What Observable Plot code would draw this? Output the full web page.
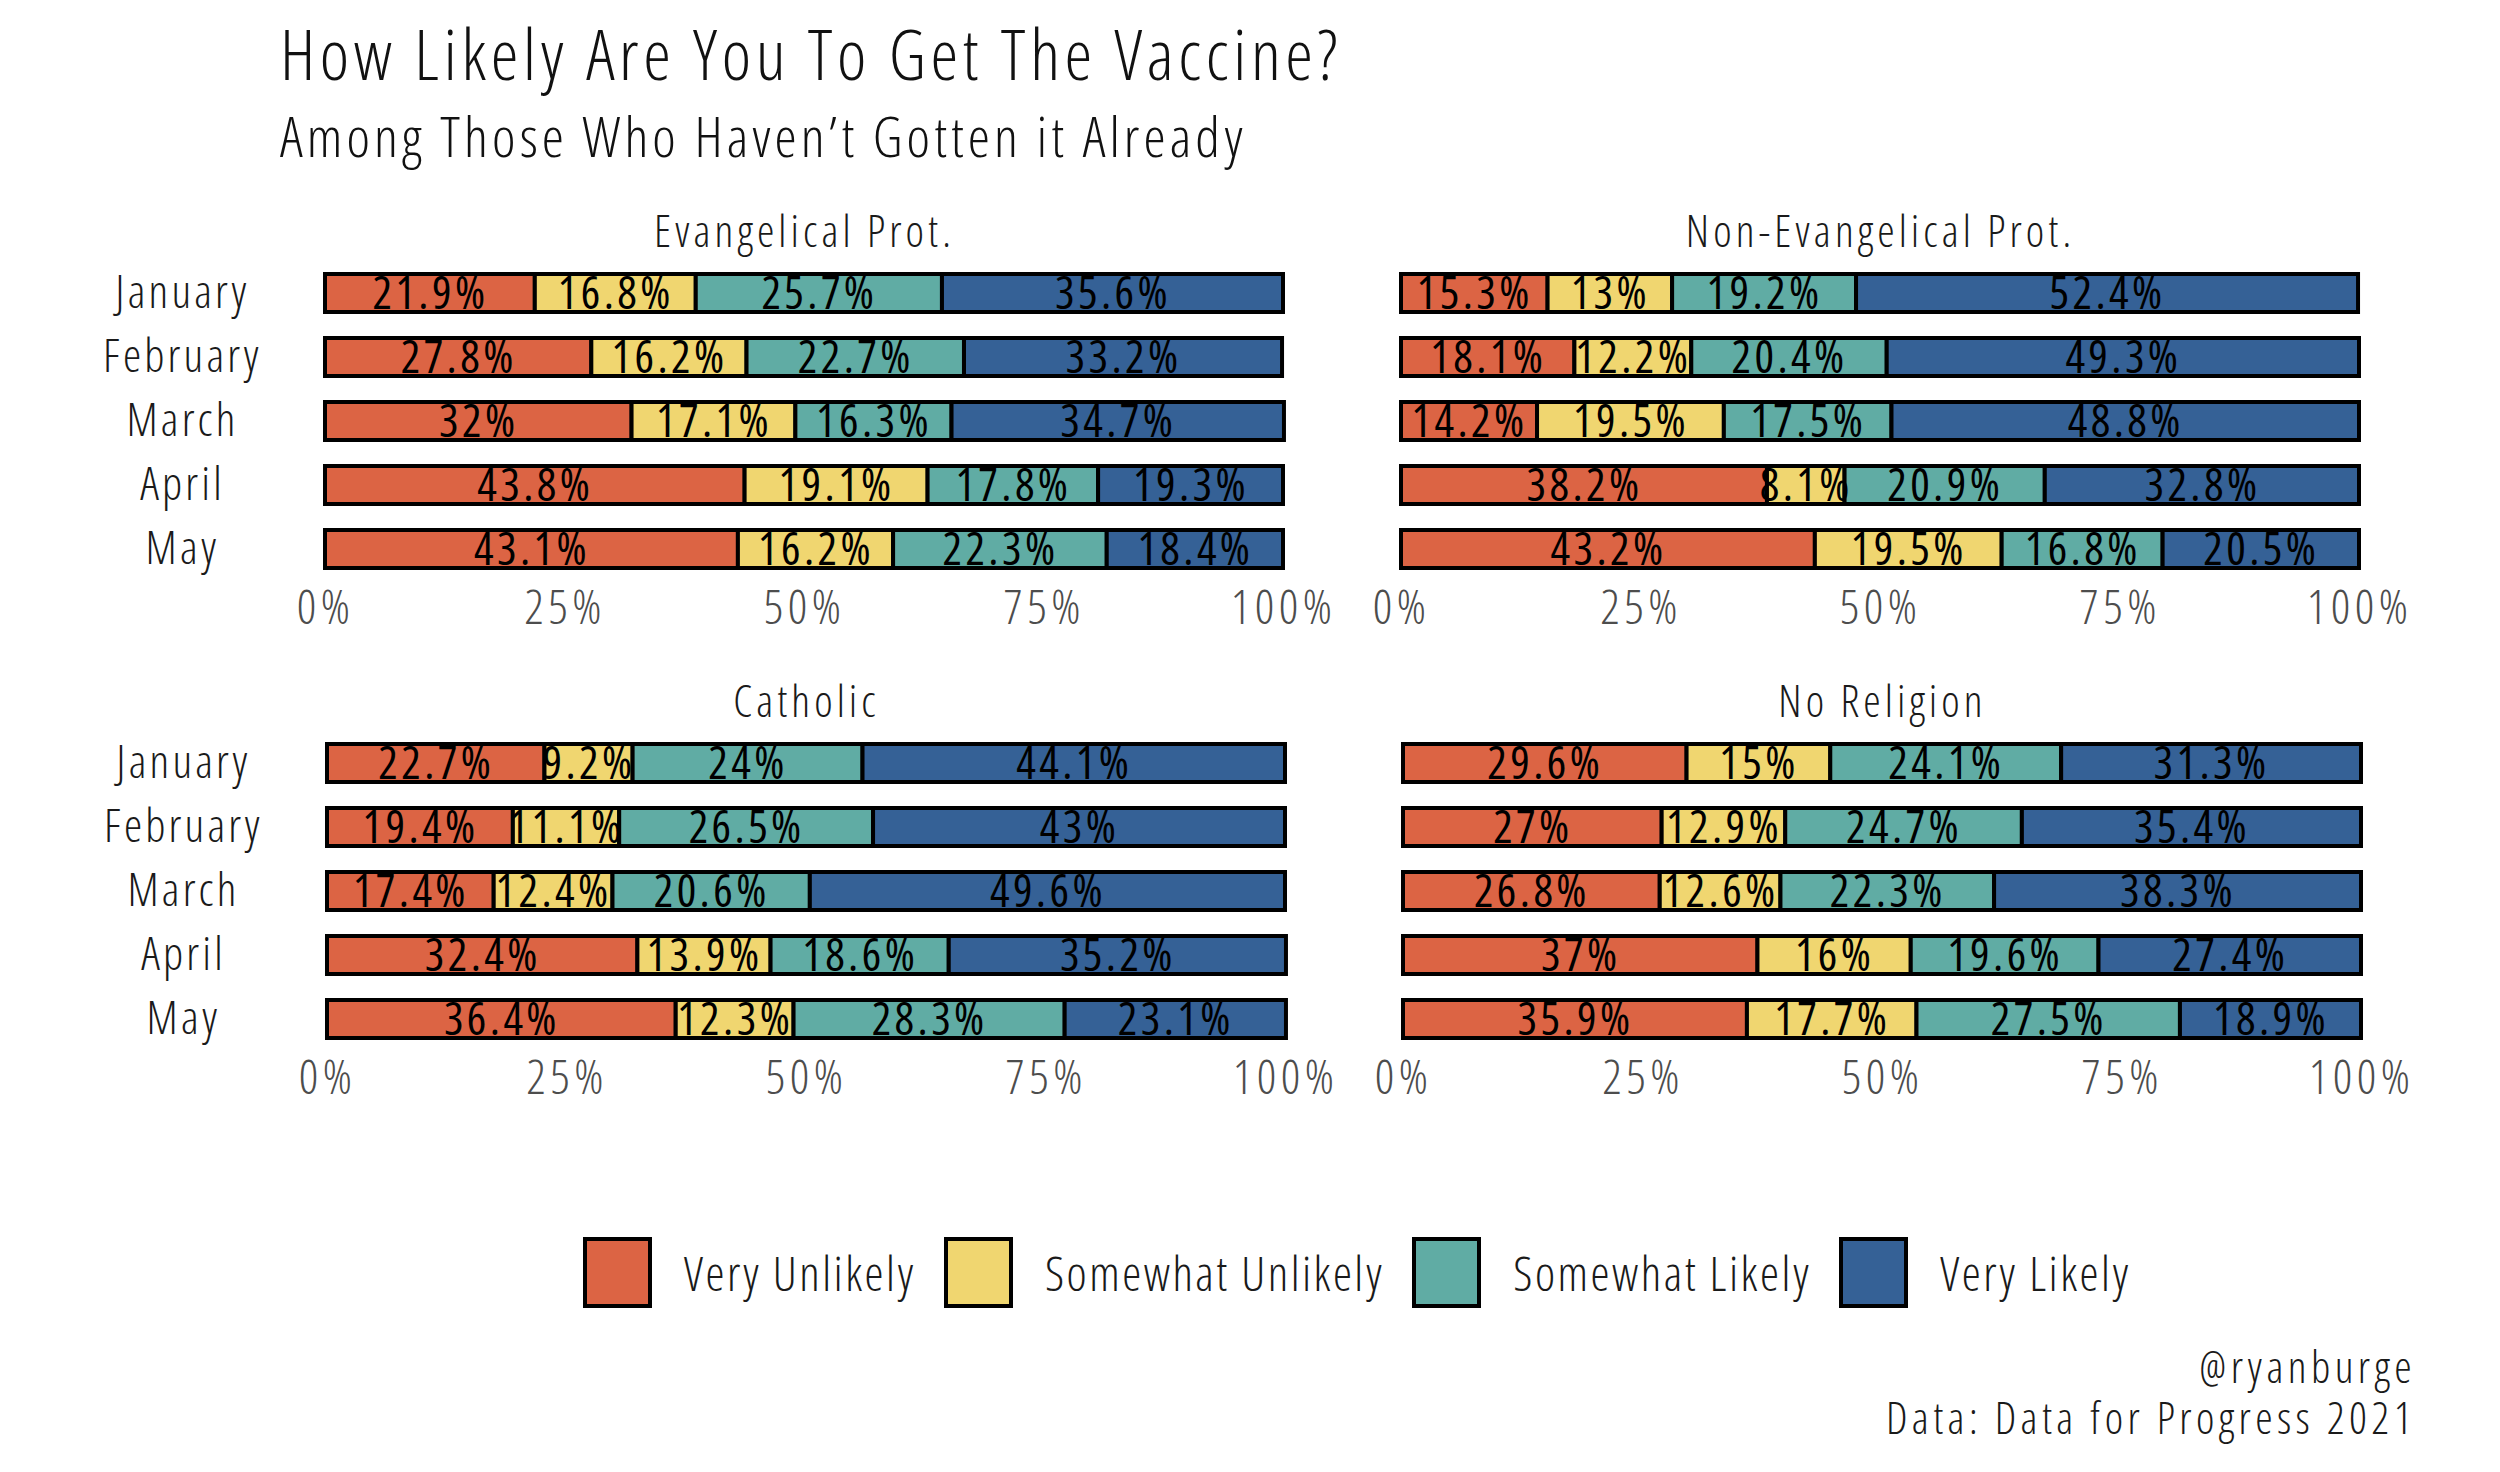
<!DOCTYPE html>
<html><head><meta charset="utf-8">
<script src="https://cdn.jsdelivr.net/npm/d3@7"></script>
<script src="https://cdn.jsdelivr.net/npm/@observablehq/plot@0.6"></script>
<style>
  html,body{margin:0;padding:0;background:#fff;}
  body{width:2500px;height:1472px;position:relative;overflow:hidden;
       font-family:'Open Sans',sans-serif;font-stretch:75%;font-weight:300;color:#1a1a1a;}
  .abs{position:absolute;white-space:nowrap;line-height:1;}
  #title{left:280px;top:18px;font-size:70px;letter-spacing:4.6px;color:#111;}
  #subtitle{left:280px;top:107px;font-size:56px;letter-spacing:4.1px;color:#111;}
  #legend{position:absolute;left:583px;top:1237px;height:71px;display:flex;align-items:center;}
  .key{width:69px;height:71px;box-sizing:border-box;border:4px solid #000;margin-right:32px;}
  .lab{font-size:48px;letter-spacing:2.5px;margin-right:28px;line-height:1;}
  #caption1{right:84px;top:1344px;font-size:44px;letter-spacing:4.4px;text-align:right;}
  #caption2{right:84px;top:1395px;font-size:44px;letter-spacing:4.4px;text-align:right;}
  svg{position:absolute;}
</style>
</head><body>
<div id="title" class="abs">How Likely Are You To Get The Vaccine?</div>
<div id="subtitle" class="abs">Among Those Who Haven’t Gotten it Already</div>
<div id="legend"></div>
<div id="caption1" class="abs">@ryanburge</div>
<div id="caption2" class="abs">Data: Data for Progress 2021</div>
<script>
// ---- data ----
const categories = ["Very Unlikely", "Somewhat Unlikely", "Somewhat Likely", "Very Likely"];
const colors = ["#DC6444", "#F0D670", "#60ACA4", "#356196"];
const months = ["January", "February", "March", "April", "May"];
const panelTitles = ["Evangelical Prot.", "Non-Evangelical Prot.", "Catholic", "No Religion"];
const xTicks = [0, 25, 50, 75, 100];

// values per month: [Very Unlikely, Somewhat Unlikely, Somewhat Likely, Very Likely]
const evangelical = [
  [21.9, 16.8, 25.7, 35.6],
  [27.8, 16.2, 22.7, 33.2],
  [32, 17.1, 16.3, 34.7],
  [43.8, 19.1, 17.8, 19.3],
  [43.1, 16.2, 22.3, 18.4]
];
const nonEvangelical = [
  [15.3, 13, 19.2, 52.4],
  [18.1, 12.2, 20.4, 49.3],
  [14.2, 19.5, 17.5, 48.8],
  [38.2, 8.1, 20.9, 32.8],
  [43.2, 19.5, 16.8, 20.5]
];
const catholic = [
  [22.7, 9.2, 24, 44.1],
  [19.4, 11.1, 26.5, 43],
  [17.4, 12.4, 20.6, 49.6],
  [32.4, 13.9, 18.6, 35.2],
  [36.4, 12.3, 28.3, 23.1]
];
const noReligion = [
  [29.6, 15, 24.1, 31.3],
  [27, 12.9, 24.7, 35.4],
  [26.8, 12.6, 22.3, 38.3],
  [37, 16, 19.6, 27.4],
  [35.9, 17.7, 27.5, 18.9]
];

// ---- build ----
function rowsOf(vals) {
  return months.flatMap((m, i) => categories.map((c, j) => ({month: m, cat: c, value: vals[i][j]})));
}

function panel(title, vals, o) {
  const rows = rowsOf(vals);
  const svg = Plot.plot({
    width: o.width,
    height: 471,
    marginLeft: o.marginLeft,
    marginRight: o.width - o.xEnd,
    marginTop: 81,
    marginBottom: 70,
    style: {fontFamily: "'Open Sans', sans-serif", fontStretch: "75%", fontWeight: 300, fontSize: "46px", background: "transparent", color: "#1a1a1a"},
    x: {domain: [0, 100], label: null},
    y: {domain: months, paddingInner: 0.4, paddingOuter: 0.2, label: null, axis: null},
    color: {domain: categories, range: colors},
    marks: [
      Plot.barX(rows, Plot.stackX({x: "value", y: "month", fill: "cat", order: categories, stroke: "#000", strokeWidth: 4})),
      Plot.text(rows, Plot.stackX({x: "value", y: "month", z: "cat", order: categories,
        text: d => d.value + "%", fontSize: 46, fontWeight: 400, fill: "#000", dy: 1})),
      Plot.axisX({ticks: xTicks, tickFormat: d => d + "%", tickSize: 0, tickPadding: 8, fontSize: 48, fill: "#4d4d4d", label: null}),
      o.showY ? Plot.axisY({tickSize: 0, tickPadding: o.marginLeft - o.labelX, textAnchor: "middle", fontSize: 46, fill: "#1a1a1a", label: null}) : null,
      Plot.text([title], {text: d => d, frameAnchor: "top", dy: -29, fontSize: 44, lineAnchor: "middle", fill: "#1a1a1a"})
    ].filter(Boolean)
  });
  const s = d3.select(svg);
  // letter spacing to match the wide-set condensed face of the original
  s.selectAll('g[aria-label="text"] text').style("letter-spacing", function() {
    return /%$/.test(this.textContent) ? "3.4px" : "4.1px";
  });
  s.selectAll('g[aria-label="x-axis tick label"] text').style("letter-spacing", "4.5px");
  s.selectAll('g[aria-label="y-axis tick label"] text').style("letter-spacing", "3.2px");
  svg.style.left = o.left + "px";
  svg.style.top = o.top + "px";
  document.body.appendChild(svg);
}

panel(panelTitles[0], evangelical,    {left: 0,    top: 180, width: 1340, marginLeft: 325, xEnd: 1283, labelX: 182, showY: true});
panel(panelTitles[1], nonEvangelical, {left: 1350, top: 180, width: 1100, marginLeft: 51,  xEnd: 1009, showY: false});
panel(panelTitles[2], catholic,       {left: 0,    top: 650, width: 1340, marginLeft: 327, xEnd: 1285, labelX: 183, showY: true});
panel(panelTitles[3], noReligion,     {left: 1350, top: 650, width: 1100, marginLeft: 53,  xEnd: 1011, showY: false});

// legend
const legend = document.getElementById("legend");
categories.forEach((c, i) => {
  const k = document.createElement("div");
  k.className = "key";
  k.style.background = colors[i];
  const l = document.createElement("div");
  l.className = "lab";
  l.textContent = c;
  legend.appendChild(k);
  legend.appendChild(l);
});
</script>
</body></html>
